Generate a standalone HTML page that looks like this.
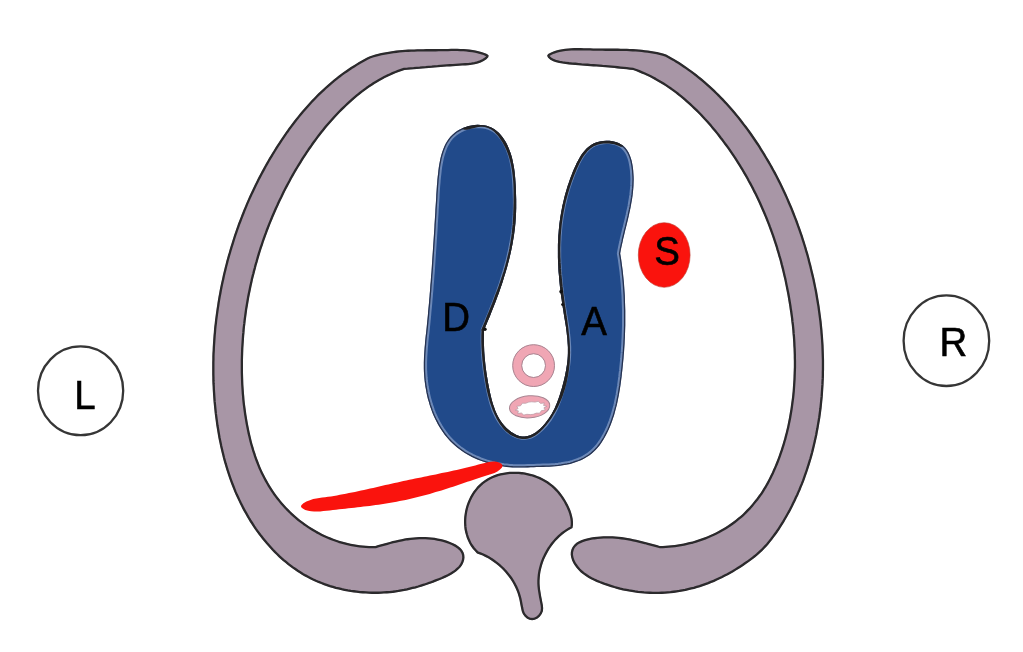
<!DOCTYPE html>
<html><head><meta charset="utf-8"><title>Diagram</title>
<style>html,body{margin:0;padding:0;background:#fff}svg{display:block;filter:blur(0.45px)}</style></head>
<body><svg width="1023" height="652" viewBox="0 0 1023 652">
<defs>
<path id="pl" d="M369.3 56.4L366.6 57.8L363.9 59.3L361.2 60.8L358.5 62.3L355.9 63.9L353.4 65.5L350.8 67.1L348.3 68.8L345.8 70.5L343.3 72.2L340.9 74.0L338.5 75.8L336.1 77.7L333.8 79.6L331.5 81.5L329.2 83.4L326.9 85.4L324.7 87.4L322.5 89.5L320.3 91.5L318.1 93.6L316.0 95.7L313.9 97.9L311.8 100.0L309.8 102.2L307.8 104.4L305.8 106.7L303.8 109.0L301.8 111.2L299.9 113.6L298.0 115.9L296.1 118.2L294.3 120.6L292.4 123.0L290.6 125.4L288.8 127.8L287.1 130.3L285.3 132.7L283.6 135.2L281.9 137.7L280.2 140.2L278.6 142.7L276.9 145.3L275.3 147.8L273.7 150.4L272.1 152.9L270.6 155.5L269.0 158.1L267.5 160.7L266.0 163.3L264.5 166.0L263.1 168.6L261.6 171.3L260.2 173.9L258.8 176.6L257.4 179.3L256.1 182.0L254.7 184.7L253.4 187.4L252.1 190.2L250.8 192.9L249.6 195.6L248.3 198.4L247.1 201.2L245.9 203.9L244.8 206.7L243.6 209.5L242.5 212.3L241.4 215.1L240.3 218.0L239.2 220.8L238.1 223.6L237.1 226.5L236.1 229.3L235.1 232.2L234.1 235.0L233.2 237.9L232.3 240.8L231.4 243.7L230.5 246.6L229.6 249.5L228.8 252.4L227.9 255.3L227.1 258.2L226.3 261.1L225.6 264.0L224.8 266.9L224.1 269.9L223.4 272.8L222.7 275.8L222.1 278.7L221.4 281.7L220.8 284.6L220.2 287.6L219.6 290.5L219.1 293.5L218.5 296.5L218.0 299.4L217.5 302.4L217.1 305.4L216.6 308.4L216.2 311.4L215.8 314.3L215.4 317.3L215.0 320.3L214.7 323.3L214.3 326.3L214.0 329.3L213.8 332.3L213.5 335.3L213.3 338.3L213.1 341.3L212.9 344.3L212.7 347.3L212.6 350.3L212.4 353.3L212.3 356.4L212.3 359.4L212.2 362.4L212.2 365.4L212.2 368.4L212.2 371.4L212.2 374.4L212.3 377.4L212.3 380.4L212.4 383.5L212.6 386.5L212.7 389.5L212.9 392.5L213.1 395.5L213.3 398.5L213.5 401.5L213.8 404.5L214.1 407.5L214.4 410.5L214.7 413.5L215.1 416.5L215.5 419.5L215.9 422.5L216.3 425.5L216.8 428.5L217.3 431.4L217.8 434.4L218.3 437.4L218.9 440.4L219.5 443.3L220.1 446.3L220.8 449.2L221.5 452.2L222.2 455.1L222.9 458.0L223.7 460.9L224.5 463.8L225.4 466.7L226.2 469.6L227.2 472.5L228.1 475.3L229.1 478.2L230.1 481.0L231.2 483.9L232.3 486.7L233.4 489.5L234.5 492.3L235.7 495.1L237.0 497.8L238.3 500.6L239.6 503.3L241.0 506.0L242.3 508.7L243.8 511.4L245.3 514.0L246.8 516.7L248.3 519.3L249.9 521.9L251.6 524.4L253.2 527.0L254.9 529.5L256.7 532.0L258.5 534.4L260.3 536.8L262.2 539.2L264.1 541.5L266.0 543.8L268.0 546.1L270.0 548.3L272.0 550.5L274.1 552.7L276.3 554.8L278.4 556.9L280.6 558.9L282.9 560.9L285.2 562.8L287.5 564.7L289.8 566.5L292.2 568.3L294.7 570.0L297.1 571.7L299.6 573.3L302.2 574.9L304.8 576.4L307.4 577.8L310.1 579.2L312.7 580.5L315.5 581.8L318.3 583.0L321.1 584.1L323.9 585.2L326.8 586.2L329.7 587.2L332.6 588.0L335.6 588.9L338.5 589.6L341.5 590.3L344.5 590.9L347.6 591.5L350.6 592.0L353.7 592.4L356.7 592.8L359.8 593.2L362.8 593.4L365.9 593.6L368.9 593.8L372.0 593.9L375.0 593.9L378.0 593.9L381.0 593.8L384.0 593.6L387.0 593.4L389.9 593.2L392.9 592.9L395.8 592.5L398.6 592.1L401.5 591.6L404.3 591.1L407.2 590.5L410.0 589.8L412.8 589.1L415.7 588.4L418.5 587.6L421.4 586.7L424.3 585.8L427.2 584.8L430.2 583.8L433.2 582.7L436.2 581.5L439.3 580.3L442.4 579.1L445.4 577.7L448.4 576.3L451.2 574.7L453.9 573.1L456.4 571.3L458.6 569.3L460.6 567.3L462.2 565.0L463.4 562.6L464.2 560.0L464.5 557.4L464.3 554.7L463.5 552.3L462.2 550.1L460.5 548.1L458.3 546.3L455.8 544.6L453.1 543.2L450.1 541.9L447.1 540.8L443.9 539.8L440.8 539.0L437.7 538.4L434.6 537.8L431.5 537.4L428.4 537.2L425.4 537.0L422.4 536.9L419.3 537.0L416.3 537.2L413.4 537.4L410.4 537.7L407.4 538.1L404.5 538.6L401.5 539.2L398.6 539.8L395.6 540.4L392.7 541.1L389.8 541.9L386.9 542.7L384.0 543.5L381.1 544.3L378.2 545.1L375.3 546.0L372.2 546.0L369.1 545.9L366.0 545.8L362.9 545.5L359.8 545.2L356.8 544.8L353.8 544.3L350.8 543.7L347.8 543.1L344.9 542.3L342.0 541.5L339.1 540.7L336.2 539.7L333.4 538.7L330.6 537.6L327.8 536.4L325.0 535.2L322.3 533.9L319.7 532.5L317.0 531.1L314.4 529.6L311.9 528.0L309.3 526.4L306.8 524.7L304.4 523.0L302.0 521.2L299.6 519.4L297.3 517.4L295.0 515.5L292.8 513.5L290.6 511.4L288.5 509.3L286.4 507.2L284.4 505.0L282.4 502.7L280.5 500.4L278.6 498.1L276.8 495.7L275.0 493.3L273.3 490.8L271.7 488.3L270.1 485.8L268.6 483.2L267.1 480.6L265.7 478.0L264.3 475.3L263.0 472.7L261.7 469.9L260.5 467.2L259.4 464.4L258.3 461.6L257.2 458.8L256.2 455.9L255.3 453.1L254.3 450.2L253.5 447.3L252.6 444.4L251.8 441.4L251.1 438.5L250.4 435.5L249.7 432.6L249.1 429.6L248.5 426.6L247.9 423.6L247.4 420.6L246.9 417.6L246.4 414.6L246.0 411.6L245.6 408.6L245.2 405.6L244.8 402.5L244.5 399.5L244.3 396.5L244.0 393.5L243.8 390.4L243.6 387.4L243.4 384.4L243.3 381.4L243.2 378.3L243.1 375.3L243.0 372.3L243.0 369.2L243.0 366.2L243.0 363.2L243.0 360.2L243.1 357.1L243.2 354.1L243.3 351.1L243.4 348.1L243.6 345.1L243.8 342.1L244.0 339.0L244.2 336.0L244.5 333.0L244.7 330.0L245.0 327.0L245.4 324.1L245.7 321.1L246.1 318.1L246.5 315.1L246.9 312.1L247.3 309.1L247.8 306.2L248.3 303.2L248.8 300.2L249.3 297.3L249.9 294.3L250.5 291.4L251.1 288.4L251.7 285.5L252.4 282.6L253.0 279.6L253.7 276.7L254.5 273.8L255.2 270.9L256.0 268.0L256.7 265.1L257.6 262.2L258.4 259.3L259.2 256.4L260.1 253.5L261.0 250.6L261.9 247.8L262.9 244.9L263.8 242.1L264.8 239.2L265.8 236.4L266.9 233.6L267.9 230.7L269.0 227.9L270.1 225.1L271.2 222.3L272.4 219.5L273.5 216.7L274.7 214.0L275.9 211.2L277.1 208.4L278.4 205.7L279.6 202.9L280.9 200.2L282.3 197.5L283.6 194.8L284.9 192.0L286.3 189.3L287.7 186.7L289.1 184.0L290.6 181.3L292.0 178.6L293.5 176.0L295.0 173.3L296.5 170.7L298.1 168.1L299.7 165.5L301.3 162.9L302.9 160.3L304.5 157.8L306.2 155.2L307.8 152.7L309.5 150.2L311.3 147.7L313.0 145.2L314.8 142.7L316.6 140.3L318.4 137.8L320.2 135.4L322.1 133.0L324.0 130.7L325.9 128.3L327.8 126.0L329.8 123.7L331.8 121.5L333.8 119.2L335.8 117.0L337.9 114.8L340.0 112.6L342.1 110.5L344.2 108.4L346.4 106.3L348.6 104.2L350.8 102.2L353.0 100.2L355.3 98.2L357.6 96.3L359.9 94.4L362.3 92.6L364.7 90.8L367.1 89.0L369.5 87.3L372.0 85.7L374.5 84.0L377.1 82.5L379.6 81.0L382.3 79.5L384.9 78.1L387.6 76.7L390.3 75.5L393.1 74.2L395.9 73.1L398.7 72.0L401.6 71.0L404.5 70.0L407.6 69.8L410.7 69.5L413.8 69.3L416.8 69.0L419.9 68.8L422.9 68.5L425.9 68.3L428.9 68.0L431.9 67.8L434.8 67.5L437.8 67.3L440.8 67.0L443.8 66.8L446.8 66.6L449.9 66.4L452.9 66.2L456.0 66.0L459.1 65.8L462.2 65.6L465.4 65.4L468.5 65.2L471.7 64.8L474.8 64.2L477.9 63.5L480.8 62.4L483.7 61.0L486.4 59.3L488.3 57.3L488.7 55.5L487.0 54.1L484.4 52.9L481.5 52.0L478.6 51.2L475.6 50.5L472.7 50.0L469.6 49.6L466.6 49.2L463.5 49.0L460.4 48.9L457.3 48.8L454.2 48.8L451.1 48.8L448.0 48.9L444.9 48.9L441.8 49.0L438.7 49.0L435.6 49.1L432.5 49.1L429.4 49.1L426.4 49.1L423.3 49.2L420.3 49.2L417.3 49.3L414.2 49.4L411.2 49.5L408.2 49.6L405.2 49.8L402.2 50.0L399.2 50.3L396.2 50.6L393.2 51.0L390.2 51.4L387.2 51.9L384.2 52.4L381.2 53.1L378.3 53.8L375.3 54.6L372.3 55.4Z"/>
<path id="pr" d="M666.2 54.4L668.9 55.9L671.5 57.4L674.2 58.9L676.7 60.5L679.3 62.1L681.9 63.8L684.4 65.5L686.9 67.2L689.3 68.9L691.8 70.7L694.2 72.5L696.6 74.3L698.9 76.2L701.3 78.1L703.6 80.0L705.9 82.0L708.1 84.0L710.4 86.0L712.6 88.0L714.8 90.1L716.9 92.2L719.1 94.3L721.2 96.5L723.3 98.6L725.3 100.8L727.4 103.0L729.4 105.2L731.4 107.5L733.4 109.8L735.3 112.1L737.3 114.4L739.2 116.7L741.0 119.1L742.9 121.5L744.7 123.9L746.6 126.3L748.4 128.7L750.1 131.1L751.9 133.6L753.6 136.1L755.3 138.6L757.0 141.1L758.7 143.6L760.3 146.1L761.9 148.7L763.5 151.2L765.1 153.8L766.6 156.4L768.2 159.0L769.7 161.6L771.2 164.2L772.7 166.8L774.1 169.4L775.6 172.1L777.0 174.8L778.4 177.4L779.7 180.1L781.1 182.8L782.4 185.5L783.7 188.2L785.0 191.0L786.3 193.7L787.5 196.4L788.7 199.2L789.9 202.0L791.1 204.7L792.3 207.5L793.4 210.3L794.5 213.1L795.6 215.9L796.7 218.7L797.8 221.6L798.8 224.4L799.8 227.2L800.8 230.1L801.8 232.9L802.8 235.8L803.7 238.7L804.6 241.6L805.5 244.4L806.4 247.3L807.2 250.2L808.1 253.1L808.9 256.0L809.7 258.9L810.4 261.9L811.2 264.8L811.9 267.7L812.6 270.7L813.3 273.6L814.0 276.5L814.7 279.5L815.3 282.5L815.9 285.4L816.5 288.4L817.1 291.3L817.6 294.3L818.1 297.3L818.6 300.3L819.1 303.3L819.6 306.2L820.0 309.2L820.4 312.2L820.8 315.2L821.2 318.2L821.6 321.2L821.9 324.2L822.2 327.2L822.5 330.2L822.7 333.2L823.0 336.2L823.2 339.2L823.4 342.2L823.6 345.3L823.7 348.3L823.8 351.3L823.9 354.3L824.0 357.3L824.1 360.3L824.1 363.3L824.1 366.3L824.1 369.4L824.0 372.4L824.0 375.4L823.9 378.4L823.7 381.4L823.6 384.4L823.4 387.4L823.2 390.4L823.0 393.4L822.8 396.4L822.5 399.4L822.2 402.4L821.9 405.4L821.6 408.4L821.2 411.4L820.8 414.4L820.4 417.4L819.9 420.4L819.4 423.3L818.9 426.3L818.4 429.3L817.8 432.2L817.3 435.2L816.6 438.2L816.0 441.1L815.3 444.0L814.6 447.0L813.9 449.9L813.2 452.8L812.4 455.7L811.6 458.6L810.7 461.5L809.8 464.4L808.9 467.3L808.0 470.1L807.0 473.0L806.0 475.8L805.0 478.7L804.0 481.5L802.9 484.3L801.7 487.1L800.6 489.9L799.4 492.6L798.2 495.4L796.9 498.1L795.6 500.9L794.3 503.6L793.0 506.3L791.6 509.0L790.2 511.7L788.7 514.3L787.2 517.0L785.7 519.6L784.2 522.2L782.6 524.8L781.0 527.3L779.3 529.9L777.6 532.4L775.8 534.9L774.0 537.3L772.2 539.7L770.3 542.1L768.4 544.4L766.4 546.7L764.4 548.8L762.3 551.0L760.1 553.0L757.9 555.0L755.6 556.9L753.3 558.7L750.9 560.5L748.5 562.3L746.0 564.0L743.6 565.7L741.0 567.4L738.5 569.0L735.9 570.6L733.3 572.2L730.6 573.7L727.9 575.2L725.2 576.6L722.5 578.0L719.7 579.3L717.0 580.6L714.2 581.9L711.4 583.0L708.5 584.2L705.7 585.2L702.8 586.2L700.0 587.2L697.1 588.0L694.2 588.9L691.3 589.6L688.4 590.3L685.5 591.0L682.5 591.5L679.6 592.1L676.6 592.5L673.7 592.9L670.7 593.3L667.8 593.5L664.8 593.8L661.8 593.9L658.8 594.0L655.8 594.1L652.9 594.0L649.9 593.9L646.9 593.8L643.9 593.6L640.9 593.3L637.9 593.0L634.9 592.6L631.9 592.1L628.9 591.6L626.0 591.0L623.0 590.4L620.0 589.7L617.0 588.9L614.1 588.1L611.1 587.2L608.2 586.3L605.2 585.3L602.3 584.2L599.4 583.1L596.5 581.9L593.6 580.6L590.9 579.2L588.2 577.7L585.6 576.0L583.2 574.3L580.8 572.4L578.7 570.3L576.7 568.1L575.0 565.7L573.4 563.2L572.1 560.4L571.2 557.6L570.7 554.8L570.8 552.0L571.5 549.3L572.6 546.9L574.3 544.7L576.4 542.8L579.0 541.3L581.8 540.1L584.8 539.1L587.9 538.3L591.1 537.6L594.2 537.1L597.3 536.7L600.4 536.4L603.5 536.2L606.5 536.2L609.6 536.2L612.6 536.3L615.6 536.5L618.6 536.8L621.6 537.1L624.6 537.5L627.6 538.0L630.5 538.6L633.5 539.2L636.4 539.8L639.3 540.5L642.3 541.2L645.2 541.9L648.1 542.7L651.0 543.5L653.9 544.3L656.8 545.1L659.7 545.9L662.7 545.9L665.7 545.7L668.7 545.5L671.7 545.3L674.7 544.9L677.7 544.5L680.7 544.0L683.7 543.5L686.6 542.8L689.6 542.1L692.6 541.4L695.5 540.5L698.4 539.6L701.3 538.6L704.2 537.6L707.0 536.4L709.8 535.2L712.6 534.0L715.3 532.7L718.1 531.3L720.7 529.8L723.4 528.3L725.9 526.7L728.5 525.1L731.0 523.3L733.4 521.6L735.8 519.7L738.1 517.8L740.4 515.9L742.7 513.9L744.8 511.8L746.9 509.6L749.0 507.5L751.0 505.2L752.9 502.9L754.8 500.6L756.7 498.2L758.4 495.8L760.2 493.4L761.8 490.9L763.4 488.3L765.0 485.7L766.5 483.1L767.9 480.5L769.3 477.8L770.6 475.1L771.9 472.4L773.1 469.6L774.3 466.9L775.5 464.1L776.6 461.3L777.7 458.5L778.7 455.7L779.7 452.8L780.7 450.0L781.6 447.1L782.5 444.3L783.3 441.4L784.2 438.5L784.9 435.6L785.7 432.7L786.4 429.8L787.1 426.9L787.7 423.9L788.3 421.0L788.9 418.1L789.4 415.1L789.9 412.1L790.4 409.2L790.8 406.2L791.2 403.2L791.6 400.2L792.0 397.2L792.3 394.2L792.6 391.2L792.8 388.2L793.0 385.2L793.2 382.2L793.4 379.2L793.5 376.1L793.6 373.1L793.7 370.1L793.8 367.1L793.8 364.0L793.8 361.0L793.7 357.9L793.7 354.9L793.6 351.9L793.5 348.8L793.3 345.8L793.2 342.8L793.0 339.7L792.8 336.7L792.5 333.7L792.3 330.6L792.0 327.6L791.7 324.6L791.3 321.5L791.0 318.5L790.6 315.5L790.2 312.5L789.7 309.5L789.3 306.5L788.8 303.5L788.3 300.5L787.8 297.5L787.3 294.5L786.7 291.5L786.1 288.5L785.5 285.6L784.9 282.6L784.3 279.6L783.6 276.7L782.9 273.7L782.2 270.8L781.5 267.9L780.7 264.9L780.0 262.0L779.2 259.1L778.3 256.2L777.5 253.3L776.6 250.4L775.8 247.5L774.9 244.7L773.9 241.8L773.0 239.0L772.0 236.1L771.0 233.3L770.0 230.4L768.9 227.6L767.9 224.8L766.8 222.0L765.7 219.2L764.6 216.5L763.4 213.7L762.2 210.9L761.0 208.2L759.8 205.4L758.6 202.7L757.3 200.0L756.0 197.3L754.7 194.6L753.3 191.9L752.0 189.2L750.6 186.6L749.2 183.9L747.7 181.3L746.3 178.6L744.8 176.0L743.3 173.4L741.8 170.8L740.2 168.3L738.7 165.7L737.1 163.2L735.4 160.6L733.8 158.1L732.1 155.6L730.4 153.1L728.7 150.6L727.0 148.1L725.2 145.7L723.4 143.3L721.6 140.8L719.7 138.4L717.9 136.0L716.0 133.6L714.1 131.3L712.1 128.9L710.2 126.6L708.2 124.3L706.2 122.0L704.1 119.8L702.0 117.5L700.0 115.3L697.8 113.1L695.7 111.0L693.5 108.9L691.3 106.8L689.1 104.7L686.8 102.7L684.6 100.7L682.3 98.7L679.9 96.8L677.6 94.9L675.2 93.1L672.8 91.3L670.3 89.5L667.8 87.8L665.3 86.1L662.8 84.5L660.2 82.9L657.6 81.4L655.0 79.9L652.4 78.5L649.7 77.1L647.0 75.8L644.3 74.6L641.5 73.4L638.7 72.2L635.9 71.1L633.0 70.1L629.8 69.7L626.6 69.3L623.5 69.0L620.4 68.7L617.4 68.4L614.4 68.1L611.4 67.8L608.4 67.5L605.4 67.3L602.4 67.1L599.5 66.8L596.5 66.6L593.5 66.4L590.6 66.2L587.5 65.9L584.5 65.7L581.5 65.5L578.4 65.2L575.3 64.9L572.1 64.7L568.9 64.4L565.6 64.0L562.4 63.6L559.2 63.1L556.1 62.3L553.2 61.2L550.4 59.7L548.1 57.8L547.1 55.8L548.1 54.1L550.6 52.7L553.4 51.5L556.2 50.6L559.1 49.8L562.1 49.2L565.1 48.8L568.1 48.4L571.2 48.2L574.3 48.1L577.5 48.1L580.6 48.1L583.8 48.2L586.9 48.2L590.1 48.3L593.2 48.4L596.3 48.5L599.4 48.5L602.5 48.5L605.6 48.6L608.7 48.6L611.7 48.6L614.8 48.6L617.8 48.6L620.8 48.7L623.9 48.7L626.9 48.8L629.9 48.9L632.9 49.1L635.9 49.3L639.0 49.5L642.0 49.8L645.0 50.2L648.0 50.5L651.0 51.0L654.0 51.5L657.1 52.1L660.1 52.8L663.1 53.6Z"/>
<path id="pv" d="M477.0 553.4L479.8 554.4L482.6 555.6L485.3 556.9L488.0 558.3L490.7 559.9L493.2 561.7L495.7 563.5L498.2 565.5L500.5 567.6L502.8 569.7L504.9 572.0L506.9 574.4L508.9 576.9L510.7 579.4L512.3 582.0L513.8 584.7L515.2 587.4L516.4 590.2L517.5 593.0L518.4 595.9L519.2 598.8L519.8 601.8L520.4 604.9L521.0 608.1L521.7 611.2L522.8 614.1L524.6 616.6L526.8 618.5L529.3 619.8L532.1 620.3L534.9 619.8L537.6 618.5L539.9 616.6L541.7 614.1L542.9 611.3L543.2 608.2L542.9 605.1L542.3 601.9L541.7 598.8L541.1 595.7L540.6 592.6L540.1 589.5L539.8 586.5L539.6 583.5L539.6 580.4L539.8 577.4L540.1 574.3L540.6 571.3L541.3 568.3L542.1 565.3L543.0 562.4L544.1 559.5L545.4 556.7L546.8 553.9L548.3 551.2L549.9 548.5L551.7 546.0L553.6 543.5L555.6 541.1L557.7 538.9L559.9 536.7L562.2 534.7L564.7 532.8L567.2 531.1L569.8 529.5L572.5 528.0L573.0 524.9L573.0 521.8L572.7 518.8L572.1 515.9L571.3 513.0L570.3 510.1L569.1 507.3L567.8 504.6L566.4 501.9L564.8 499.2L563.2 496.7L561.4 494.2L559.5 491.8L557.5 489.5L555.3 487.3L553.1 485.3L550.7 483.4L548.2 481.6L545.6 480.0L542.9 478.5L540.1 477.1L537.2 475.9L534.3 474.8L531.3 473.9L528.2 473.2L525.1 472.6L522.0 472.1L518.9 471.8L515.8 471.7L512.6 471.7L509.5 471.8L506.4 472.2L503.4 472.7L500.4 473.3L497.4 474.1L494.6 475.1L491.8 476.2L489.1 477.5L486.5 479.0L484.0 480.7L481.6 482.5L479.4 484.5L477.3 486.6L475.4 488.9L473.5 491.3L471.9 493.8L470.3 496.5L469.0 499.2L467.8 502.0L466.7 504.9L465.8 507.9L465.1 510.9L464.6 513.9L464.2 517.0L464.0 520.0L464.0 523.1L464.2 526.2L464.5 529.2L465.1 532.2L465.9 535.1L466.8 538.0L468.0 540.8L469.3 543.6L470.9 546.2L472.7 548.7L474.8 551.1Z"/>
<path id="pb" d="M620.2 253.5L620.7 250.6L621.3 247.6L621.9 244.7L622.6 241.8L623.2 238.8L623.9 235.9L624.6 233.0L625.3 230.0L626.1 227.1L626.8 224.1L627.5 221.2L628.2 218.2L628.9 215.2L629.5 212.3L630.2 209.3L630.8 206.3L631.3 203.3L631.8 200.4L632.3 197.4L632.7 194.4L633.0 191.4L633.3 188.4L633.5 185.4L633.6 182.3L633.7 179.3L633.6 176.3L633.4 173.2L633.2 170.2L632.8 167.1L632.3 164.1L631.7 161.1L630.9 158.2L629.9 155.4L628.7 152.7L627.2 150.3L625.5 148.0L623.5 146.1L621.2 144.4L618.6 143.0L615.7 141.9L612.7 141.2L609.5 140.8L606.3 140.7L603.0 140.9L599.8 141.4L596.8 142.2L594.0 143.3L591.4 144.7L589.0 146.4L586.8 148.3L584.8 150.4L582.9 152.7L581.2 155.1L579.6 157.7L578.1 160.4L576.7 163.1L575.4 166.0L574.1 168.8L572.9 171.6L571.8 174.4L570.7 177.3L569.7 180.1L568.7 182.9L567.7 185.8L566.8 188.7L566.0 191.5L565.1 194.4L564.4 197.3L563.7 200.3L563.0 203.2L562.3 206.1L561.8 209.1L561.2 212.1L560.7 215.0L560.2 218.0L559.8 221.0L559.4 224.0L559.1 227.0L558.8 230.0L558.6 233.1L558.3 236.1L558.2 239.1L558.0 242.1L557.9 245.1L557.9 248.1L557.9 251.1L557.9 254.2L557.9 257.2L558.0 260.2L558.1 263.2L558.3 266.2L558.4 269.2L558.6 272.2L558.9 275.2L559.1 278.2L559.4 281.2L559.7 284.2L560.0 287.2L560.4 290.2L560.7 293.2L561.1 296.2L561.6 299.2L562.0 302.2L562.4 305.2L562.9 308.2L563.4 311.2L563.8 314.1L564.3 317.1L564.8 320.1L565.3 323.1L565.8 326.1L566.2 329.0L566.6 332.0L566.9 335.0L567.3 338.0L567.5 340.9L567.7 343.9L567.9 346.9L567.9 349.9L567.9 352.9L567.8 355.9L567.6 358.9L567.3 361.9L566.9 364.9L566.4 367.9L565.9 370.9L565.3 373.9L564.7 376.9L564.0 379.9L563.3 382.8L562.5 385.8L561.7 388.7L560.8 391.6L559.9 394.4L559.0 397.3L558.0 400.1L556.9 402.9L555.8 405.6L554.6 408.4L553.2 411.0L551.8 413.7L550.2 416.3L548.6 418.8L546.7 421.3L544.8 423.8L542.6 426.2L540.4 428.4L538.0 430.5L535.5 432.4L532.9 434.0L530.3 435.3L527.6 436.1L524.8 436.5L522.0 436.5L519.3 435.9L516.5 434.9L513.9 433.6L511.3 432.0L508.8 430.1L506.5 428.0L504.4 425.7L502.5 423.4L500.7 420.9L499.1 418.4L497.6 415.7L496.3 413.0L495.1 410.2L494.1 407.3L493.1 404.4L492.2 401.5L491.4 398.5L490.7 395.5L490.0 392.5L489.4 389.5L488.8 386.5L488.2 383.5L487.7 380.6L487.2 377.6L486.7 374.6L486.3 371.7L485.9 368.7L485.5 365.7L485.2 362.8L484.9 359.8L484.6 356.8L484.4 353.9L484.2 350.9L484.1 347.9L484.0 344.9L483.9 341.9L483.9 338.9L483.9 335.8L484.0 332.8L484.1 329.7L485.3 327.0L486.5 324.2L487.6 321.4L488.8 318.7L490.0 315.9L491.1 313.1L492.2 310.3L493.3 307.5L494.4 304.7L495.5 301.9L496.6 299.0L497.6 296.2L498.7 293.4L499.7 290.5L500.7 287.6L501.7 284.8L502.6 281.9L503.5 279.0L504.4 276.1L505.3 273.2L506.2 270.3L507.0 267.4L507.8 264.5L508.6 261.6L509.3 258.7L510.0 255.7L510.7 252.8L511.3 249.9L511.9 246.9L512.5 244.0L513.0 241.0L513.5 238.0L514.0 235.1L514.4 232.1L514.8 229.1L515.1 226.2L515.4 223.2L515.6 220.2L515.8 217.2L516.0 214.2L516.1 211.2L516.2 208.2L516.2 205.2L516.2 202.2L516.2 199.2L516.1 196.2L516.0 193.2L515.9 190.2L515.8 187.1L515.6 184.1L515.4 181.1L515.2 178.1L514.9 175.0L514.6 172.0L514.2 169.0L513.7 165.9L513.1 162.9L512.5 159.9L511.7 156.8L510.8 153.8L509.7 150.8L508.6 147.9L507.3 145.1L505.9 142.3L504.3 139.7L502.6 137.2L500.8 134.9L498.8 132.8L496.7 130.9L494.4 129.2L491.9 127.8L489.3 126.7L486.6 125.8L483.7 125.2L480.7 124.9L477.7 124.8L474.7 125.0L471.7 125.4L468.7 126.0L465.7 126.9L462.8 128.0L460.1 129.3L457.4 130.8L455.0 132.5L452.7 134.4L450.6 136.5L448.8 138.7L447.1 141.2L445.6 143.7L444.3 146.4L443.2 149.2L442.2 152.1L441.3 155.0L440.5 158.0L439.9 161.1L439.3 164.2L438.8 167.3L438.4 170.4L438.1 173.5L437.7 176.6L437.4 179.6L437.2 182.6L436.9 185.6L436.7 188.6L436.5 191.6L436.3 194.5L436.2 197.5L436.0 200.5L435.8 203.5L435.6 206.5L435.4 209.4L435.3 212.4L435.1 215.4L434.9 218.4L434.7 221.4L434.5 224.4L434.4 227.4L434.2 230.4L434.0 233.5L433.8 236.5L433.6 239.5L433.4 242.5L433.2 245.5L433.0 248.5L432.8 251.5L432.6 254.6L432.4 257.6L432.2 260.6L432.0 263.6L431.8 266.7L431.6 269.7L431.4 272.7L431.1 275.7L430.9 278.7L430.7 281.8L430.4 284.8L430.2 287.8L430.0 290.8L429.7 293.8L429.5 296.8L429.2 299.8L429.0 302.8L428.7 305.8L428.4 308.8L428.1 311.8L427.9 314.8L427.6 317.8L427.3 320.8L427.0 323.8L426.7 326.8L426.4 329.8L426.1 332.7L425.7 335.7L425.4 338.7L425.1 341.6L424.9 344.6L424.6 347.6L424.4 350.6L424.2 353.5L424.0 356.5L423.9 359.5L423.8 362.5L423.8 365.5L423.8 368.5L423.9 371.5L424.1 374.6L424.3 377.6L424.6 380.7L425.0 383.7L425.4 386.8L426.0 389.8L426.5 392.8L427.2 395.9L427.9 398.9L428.8 401.8L429.6 404.8L430.6 407.7L431.6 410.6L432.7 413.5L433.9 416.3L435.2 419.0L436.6 421.7L438.0 424.4L439.5 427.0L441.1 429.6L442.8 432.0L444.5 434.4L446.4 436.8L448.3 439.0L450.3 441.2L452.4 443.3L454.6 445.3L456.9 447.2L459.2 449.1L461.6 450.8L464.1 452.5L466.6 454.0L469.2 455.5L471.9 456.9L474.6 458.2L477.4 459.4L480.2 460.6L483.0 461.6L485.9 462.6L488.8 463.5L491.7 464.3L494.7 465.0L497.6 465.6L500.6 466.1L503.6 466.6L506.6 466.9L509.6 467.2L512.6 467.4L515.7 467.5L518.7 467.5L521.7 467.5L524.7 467.5L527.7 467.4L530.8 467.3L533.8 467.2L536.9 467.1L539.9 467.0L543.0 466.9L546.1 466.8L549.1 466.7L552.2 466.5L555.3 466.3L558.3 466.0L561.3 465.6L564.3 465.1L567.3 464.6L570.2 463.9L573.1 463.1L576.0 462.1L578.8 461.1L581.5 459.9L584.2 458.6L586.7 457.1L589.2 455.5L591.5 453.7L593.7 451.8L595.8 449.7L597.8 447.5L599.7 445.2L601.4 442.7L603.0 440.2L604.6 437.6L606.0 434.9L607.4 432.2L608.7 429.5L609.9 426.7L611.0 423.9L612.1 421.1L613.0 418.2L614.0 415.4L614.8 412.5L615.6 409.6L616.4 406.6L617.1 403.7L617.7 400.7L618.3 397.8L618.9 394.8L619.4 391.8L619.9 388.8L620.4 385.7L620.8 382.7L621.2 379.7L621.6 376.7L621.9 373.7L622.3 370.6L622.6 367.6L622.9 364.6L623.2 361.6L623.5 358.6L623.7 355.6L624.0 352.5L624.2 349.5L624.4 346.5L624.6 343.5L624.7 340.5L624.9 337.5L625.0 334.5L625.1 331.5L625.2 328.5L625.3 325.5L625.3 322.5L625.3 319.5L625.3 316.5L625.3 313.5L625.3 310.5L625.2 307.5L625.1 304.5L625.0 301.5L624.9 298.5L624.8 295.5L624.6 292.5L624.4 289.6L624.2 286.6L624.0 283.6L623.7 280.6L623.4 277.6L623.1 274.6L622.8 271.5L622.4 268.5L622.0 265.5L621.6 262.5L621.2 259.5L620.7 256.5Z"/>
<clipPath id="cl"><use href="#pl"/></clipPath>
<clipPath id="cr"><use href="#pr"/></clipPath>
<clipPath id="cv"><use href="#pv"/></clipPath>
<clipPath id="cb"><use href="#pb"/></clipPath>
</defs>
<rect width="1023" height="652" fill="#fff"/>
<use href="#pl" fill="#a896a6" stroke="#2b2a2c" stroke-width="4.6" stroke-linejoin="round" clip-path="url(#cl)"/>
<use href="#pr" fill="#a896a6" stroke="#2b2a2c" stroke-width="4.6" stroke-linejoin="round" clip-path="url(#cr)"/>
<g clip-path="url(#cb)">
<use href="#pb" fill="#214a8a"/>
<use href="#pb" fill="none" stroke="#9fb2d6" stroke-opacity="0.6" stroke-width="6.6"/>
<use href="#pb" fill="none" stroke="#26324f" stroke-width="2.6" stroke-linejoin="round"/>
<path d="M621.2 144.2L618.5 143.0L615.7 142.1L612.6 141.4L609.5 141.0L606.3 140.9L603.1 141.1L600.0 141.5L597.1 142.2L594.3 143.3L591.7 144.6L589.3 146.2L587.2 148.0L585.1 150.1L583.3 152.3L581.5 154.7L579.9 157.3L578.4 159.9L577.0 162.7L575.7 165.5L574.4 168.3L573.2 171.2L572.0 174.0L570.9 176.9L569.8 179.8L568.8 182.7L567.8 185.6L566.9 188.5L566.0 191.4L565.2 194.3L564.4 197.2L563.6 200.2L562.9 203.1L562.3 206.0L561.7 209.0L561.1 211.9L560.6 214.9L560.1 217.9L559.7 220.8L559.3 223.8L559.0 226.8L558.7 229.8L558.5 232.8L558.2 235.8L558.1 238.8L558.0 241.8L557.9 244.8L557.8 247.8L557.8 250.8L557.9 253.8L557.9 256.8L558.1 259.8L558.2 262.9L558.4 265.9L558.5 268.9L558.8 271.9L559.0 274.9L559.3 278.0L559.6 281.0L559.9 284.0L560.2 287.0L560.6 290.0L560.9 293.0L561.3 296.0L561.7 299.0L562.1 302.0L562.5 305.0L562.9 308.0L563.4 311.0L563.8 314.0L564.2 317.0L564.7 320.0L565.1 322.9L565.5 325.9L565.9 328.9L566.2 331.8L566.5 334.8L566.8 337.8L567.1 340.8L567.3 343.7L567.4 346.7L567.5 349.7L567.6 352.7L567.5 355.7L567.4 358.7L567.3 361.7L567.0 364.7L566.7 367.7L566.3 370.7L565.9 373.7L565.3 376.7L564.7 379.7L564.1 382.7L563.3 385.6L562.5 388.5L561.5 391.5L560.6 394.3L559.5 397.2L558.3 400.0L557.1 402.8L555.8 405.6L554.4 408.3L552.9 410.9L551.3 413.6L549.7 416.2L547.9 418.7L546.1 421.2L544.2 423.6L542.2 426.0L540.1 428.3L537.9 430.4L535.6 432.2L533.2 433.8L530.7 435.1L528.0 436.0L525.3 436.5L522.4 436.4L519.4 436.0L516.5 435.1L513.7 433.8L511.1 432.3L508.7 430.4L506.5 428.4L504.5 426.1L502.6 423.6L500.9 421.0L499.3 418.3L497.9 415.5L496.5 412.6L495.3 409.8L494.2 406.9L493.2 404.0L492.2 401.1L491.4 398.2L490.6 395.4L489.9 392.5L489.2 389.6L488.6 386.7L488.1 383.8L487.6 380.8L487.1 377.9L486.7 374.9L486.3 372.0L485.9 369.0L485.6 366.0L485.3 363.0L484.9 359.9L484.7 356.9L484.4 353.8L484.2 350.8L484.0 347.8L483.9 344.7L483.8 341.7L483.8 338.7L483.8 335.7L483.9 332.7L484.1 329.7" fill="none" stroke="#222224" stroke-width="5" stroke-linecap="round" stroke-linejoin="round"/>
<path d="M484.1 329.7L485.2 326.9L486.4 324.1L487.5 321.3L488.6 318.4L489.8 315.6L490.9 312.8L492.1 309.9L493.2 307.1L494.4 304.2L495.5 301.3L496.6 298.4L497.7 295.5L498.8 292.7L499.9 289.8L501.0 286.8L502.0 283.9L503.0 281.0L504.0 278.1L504.9 275.1L505.9 272.2L506.8 269.3L507.6 266.3L508.4 263.4L509.2 260.4L509.9 257.4L510.6 254.5L511.3 251.5L511.9 248.5L512.4 245.5L512.9 242.5L513.4 239.5L513.8 236.5L514.2 233.5L514.5 230.5L514.8 227.5L515.1 224.4L515.3 221.4L515.5 218.3L515.7 215.3L515.8 212.2L515.9 209.1L516.0 206.0L516.1 202.9L516.1 199.8L516.1 196.7L516.1 193.6L516.1 190.4L516.0 187.3L515.9 184.2L515.7 181.1L515.4 178.0L515.1 174.9L514.7 171.9L514.2 168.8L513.7 165.8L513.1 162.8L512.3 159.9L511.5 156.9L510.6 154.1L509.5 151.2L508.4 148.4L507.1 145.7L505.7 143.0L504.2 140.3L502.5 137.8L500.7 135.2L498.8 132.9L496.7 130.7L494.4 128.7L491.9 127.0L489.2 125.7L486.3 124.8L483.2 124.3L479.9 124.3L476.4 124.9L472.8 125.8L469.4 126.7L466.5 127.3L464.5 127.2" fill="none" stroke="#222224" stroke-width="5" stroke-linecap="round" stroke-linejoin="round"/>
</g>
<circle cx="561.2" cy="291.6" r="1.9" fill="#111"/><circle cx="562.4" cy="304.6" r="1.3" fill="#111"/><circle cx="485" cy="329.2" r="1.7" fill="#111"/>
<path d="M301.0 507.0L301.3 505.2L303.4 503.3L306.4 501.6L309.9 500.2L313.2 499.1L316.3 498.5L319.3 498.0L322.2 497.6L325.1 497.2L328.0 496.8L331.0 496.4L333.9 495.9L336.9 495.4L339.9 494.8L342.9 494.3L345.9 493.7L348.9 493.1L351.9 492.5L354.9 491.9L358.0 491.2L361.0 490.6L364.0 489.9L367.1 489.2L370.1 488.5L373.2 487.9L376.2 487.2L379.2 486.5L382.3 485.8L385.3 485.1L388.3 484.4L391.4 483.7L394.4 483.0L397.4 482.4L400.4 481.7L403.3 481.1L406.3 480.4L409.3 479.8L412.2 479.2L415.2 478.6L418.1 478.0L421.1 477.4L424.0 476.8L426.9 476.2L429.9 475.6L432.8 475.0L435.8 474.4L438.7 473.8L441.7 473.1L444.7 472.5L447.7 471.9L450.7 471.2L453.7 470.5L456.7 469.9L459.8 469.2L462.8 468.4L465.9 467.7L469.0 466.9L472.1 466.2L475.3 465.4L478.4 464.5L481.6 463.7L484.8 462.9L488.0 462.2L491.0 461.7L493.9 461.6L496.6 461.8L499.1 462.5L501.4 463.8L502.6 465.5L502.0 467.6L500.0 469.6L497.4 471.4L494.5 472.9L491.4 474.1L488.2 475.1L485.0 476.1L481.9 477.0L478.9 478.0L475.9 478.9L473.0 479.9L470.1 480.9L467.3 481.8L464.5 482.8L461.7 483.8L458.8 484.8L456.0 485.7L453.1 486.7L450.3 487.6L447.4 488.5L444.4 489.5L441.5 490.4L438.6 491.3L435.6 492.1L432.7 493.0L429.7 493.9L426.7 494.7L423.7 495.5L420.7 496.3L417.7 497.1L414.7 497.8L411.7 498.5L408.7 499.2L405.6 499.9L402.6 500.5L399.6 501.1L396.6 501.7L393.6 502.3L390.6 502.8L387.6 503.3L384.6 503.8L381.6 504.2L378.6 504.7L375.6 505.1L372.6 505.5L369.6 505.9L366.6 506.3L363.5 506.6L360.5 507.0L357.5 507.3L354.4 507.7L351.4 508.0L348.3 508.3L345.3 508.7L342.2 509.0L339.1 509.3L336.0 509.7L332.9 510.0L329.7 510.4L326.6 510.7L323.4 511.1L320.3 511.4L317.2 511.5L314.1 511.5L311.1 511.3L308.2 510.8L305.3 509.9L302.7 508.6Z" fill="#fa130d"/>
<use href="#pv" fill="#a896a6" stroke="#2b2a2c" stroke-width="4.6" stroke-linejoin="round" clip-path="url(#cv)"/>
<ellipse cx="664.2" cy="255" rx="25.9" ry="32.3" fill="#fa130d" stroke="#c0392f" stroke-opacity="0.7" stroke-width="0.9"/>
<circle cx="533.6" cy="365.6" r="16.4" fill="none" stroke="#f0a6b4" stroke-width="9.4"/>
<circle cx="533.6" cy="365.6" r="20.9" fill="none" stroke="#a88592" stroke-width="1"/>
<circle cx="533.6" cy="365.6" r="11.9" fill="none" stroke="#a88592" stroke-width="1"/>
<g transform="rotate(-5 529.6 406.8)"><ellipse cx="529.6" cy="406.8" rx="20.2" ry="11" fill="#f0a6b4" stroke="#a88592" stroke-width="1"/></g>
<path d="M546.9 406.3L543.9 407.8L545.2 410.1L541.5 410.6L539.6 413.2L536.4 413.1L533.2 414.3L530.3 414.6L526.9 414.3L523.8 415.1L521.4 413.0L517.7 413.5L518.4 410.9L515.1 410.1L518.1 408.6L516.8 406.3L520.5 405.8L522.4 403.2L525.6 403.3L528.8 402.1L531.7 401.8L535.1 402.1L538.2 401.3L540.6 403.4L544.3 402.9L543.6 405.5Z" fill="#fff" stroke="#b89aa4" stroke-width="0.7"/>
<ellipse cx="80.6" cy="390.8" rx="42.6" ry="44.4" fill="#fff" stroke="#363636" stroke-width="2.3"/>
<ellipse cx="946.4" cy="340.7" rx="42.8" ry="45.3" fill="#fff" stroke="#363636" stroke-width="2.3"/>
<g font-family="'Liberation Sans', sans-serif" font-size="40.5" fill="#000" stroke="#000" stroke-width="0.6">
<text id="tL" transform="translate(74.25 408.6) scale(0.95 1)">L</text>
<text id="tR" transform="translate(939.45 355.8) scale(0.95 1)">R</text>
<text id="tD" transform="translate(442.25 330.6) scale(0.95 1)">D</text>
<text id="tA" transform="translate(581.25 334.6) scale(0.95 1)">A</text>
<text id="tS" transform="translate(654.15 265.1) scale(0.95 1)">S</text>
</g>
</svg></body></html>
